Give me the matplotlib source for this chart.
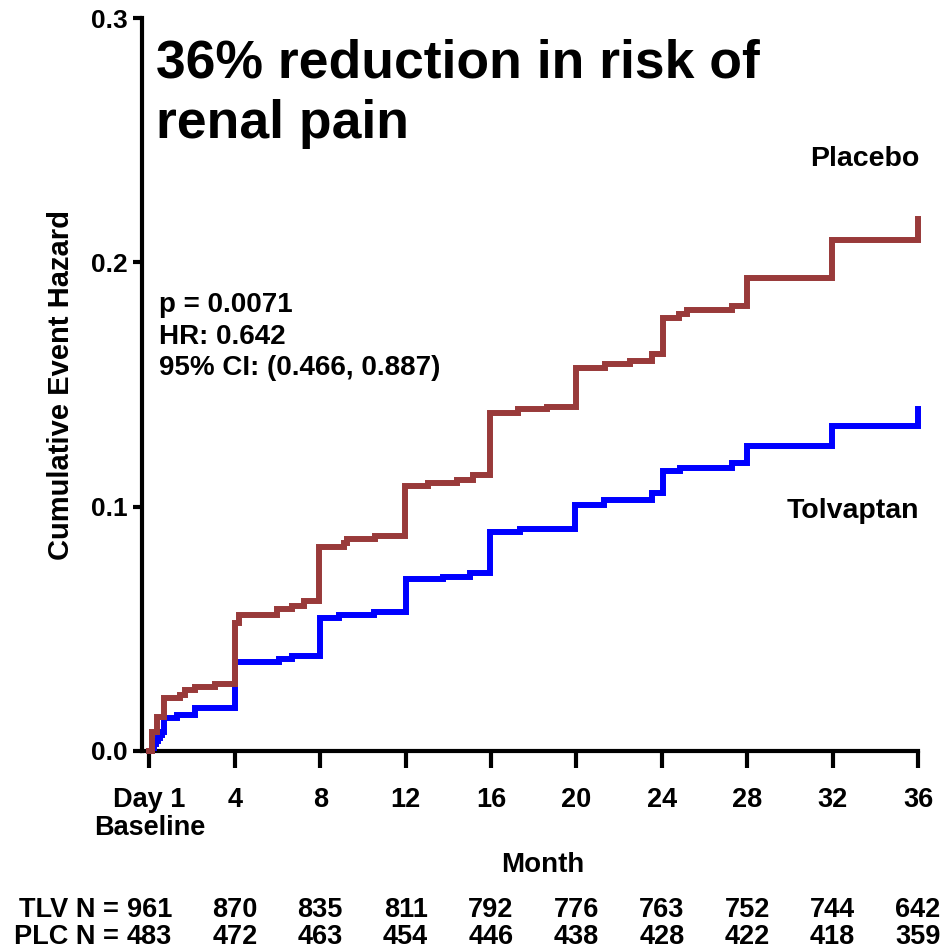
import matplotlib
matplotlib.use("Agg")
import matplotlib.pyplot as plt
import matplotlib.transforms as mtransforms

plt.rcParams['font.family'] = ['Liberation Sans', 'DejaVu Sans']
plt.rcParams['font.weight'] = 'bold'

# Cumulative event hazard (step functions), months since baseline
placebo_month = [0, 0.12, 0.36, 0.67, 1.45, 1.68, 2.15, 3.09, 4.0, 4.21, 5.97, 6.67,
                 7.22, 7.95, 9.09, 9.25, 10.57, 11.97, 13.07, 14.39, 15.14, 15.97,
                 17.27, 18.6, 19.96, 21.36, 22.53, 23.54, 24.04, 24.79, 25.2, 27.3,
                 27.98, 31.98, 36.0]
placebo_hazard = [0, 0.0079, 0.0141, 0.0216, 0.0230, 0.0250, 0.0261, 0.0273, 0.0523,
                  0.0557, 0.0581, 0.0594, 0.0612, 0.0835, 0.0851, 0.0868, 0.0878,
                  0.1083, 0.1097, 0.1111, 0.1131, 0.1384, 0.1398, 0.1407, 0.1568,
                  0.1585, 0.1598, 0.1623, 0.1773, 0.1787, 0.1805, 0.1821, 0.1937,
                  0.2091, 0.2176]

tolvaptan_month = [0, 0.14, 0.22, 0.31, 0.40, 0.50, 0.60, 0.67, 1.29, 2.15, 4.0, 6.05,
                   6.67, 7.98, 8.86, 10.5, 12.0, 13.77, 15.01, 15.95, 17.35, 19.94,
                   21.28, 23.54, 24.04, 24.87, 27.3, 27.98, 31.98, 36.0]
tolvaptan_hazard = [0, 0.0012, 0.0027, 0.0040, 0.0053, 0.0064, 0.0076, 0.0134, 0.0148,
                    0.0175, 0.0366, 0.0377, 0.0389, 0.0544, 0.0556, 0.0569, 0.0704,
                    0.0714, 0.0728, 0.0895, 0.0908, 0.1008, 0.1029, 0.1056, 0.1145,
                    0.1159, 0.1179, 0.1247, 0.1332, 0.1398]

# Axis ticks and numbers at risk
month_ticks = [0, 4, 8, 12, 16, 20, 24, 28, 32, 36]
month_labels = ['Day 1\nBaseline', '4', '8', '12', '16', '20', '24', '28', '32', '36']
hazard_ticks = [0.0, 0.1, 0.2, 0.3]
hazard_labels = ['0.0', '0.1', '0.2', '0.3']
tlv_at_risk = [961, 870, 835, 811, 792, 776, 763, 752, 744, 642]
plc_at_risk = [483, 472, 463, 454, 446, 438, 428, 422, 418, 359]

title_lines = ['36% reduction in risk of', 'renal pain']
stats_lines = ['p = 0.0071', 'HR: 0.642', '95% CI: (0.466, 0.887)']

W, H = 944, 949
fig = plt.figure(figsize=(W / 100, H / 100), dpi=100)
fig.patch.set_facecolor('white')

ax_left, ax_right, ax_bottom, ax_top = 142, 918, 751, 18
ax = fig.add_axes([ax_left / W, (H - ax_bottom) / H,
                   (ax_right - ax_left) / W, (ax_bottom - ax_top) / H])

ax.step(tolvaptan_month, tolvaptan_hazard, where='post', color='#0000FF', lw=4.3,
        solid_joinstyle='miter', clip_on=False, zorder=3)
ax.step(placebo_month, placebo_hazard, where='post', color='#993A3A', lw=4.3,
        solid_joinstyle='miter', clip_on=False, zorder=4)

ax.set_xlim(-0.35, 36)
ax.set_ylim(0, 0.3)

for side in ('top', 'right'):
    ax.spines[side].set_visible(False)
for side in ('left', 'bottom'):
    ax.spines[side].set_linewidth(3)
    ax.spines[side].set_capstyle('projecting')

ax.set_xticks(month_ticks)
ax.set_xticklabels(month_labels, fontsize=19.5, fontweight='bold', linespacing=1.1)
ax.set_yticks(hazard_ticks)
ax.set_yticklabels(hazard_labels, fontsize=19, fontweight='bold')
ax.tick_params(axis='x', direction='out', length=12, width=3, pad=14)
ax.tick_params(axis='y', direction='out', length=6.5, width=3, pad=4)

ax.set_ylabel('Cumulative Event Hazard', fontsize=21, fontweight='bold', labelpad=11)

def px(x, y):
    return x / W, (H - y) / H

fig.text(*px(543, 872), 'Month', fontsize=20, fontweight='bold', ha='center', va='baseline')

# Title
fig.text(*px(156, 78), title_lines[0], fontsize=38.5, fontweight='bold', va='baseline')
fig.text(*px(156, 138), title_lines[1], fontsize=38.5, fontweight='bold', va='baseline')

# Statistics
for i, line in enumerate(stats_lines):
    fig.text(*px(159, 312 + 31.5 * i), line, fontsize=20, fontweight='bold', va='baseline')

# Curve labels
fig.text(*px(919, 166), 'Placebo', fontsize=20.5, fontweight='bold', ha='right', va='baseline')
fig.text(*px(919, 518), 'Tolvaptan', fontsize=20.5, fontweight='bold', ha='right', va='baseline')

# Numbers at risk under each month tick
trans = mtransforms.blended_transform_factory(ax.transData, fig.transFigure)
for row_y, prefix, counts in ((917, 'TLV N = ', tlv_at_risk), (944, 'PLC N = ', plc_at_risk)):
    yf = (H - row_y) / H
    for m, n in zip(month_ticks, counts):
        ax.text(m, yf, str(n), transform=trans, fontsize=19.5, fontweight='bold',
                ha='center', va='baseline', clip_on=False)
    fig.text(126 / W, yf, prefix, fontsize=19.5, fontweight='bold', ha='right', va='baseline')

fig.savefig('out.png', dpi=100, facecolor='white')
